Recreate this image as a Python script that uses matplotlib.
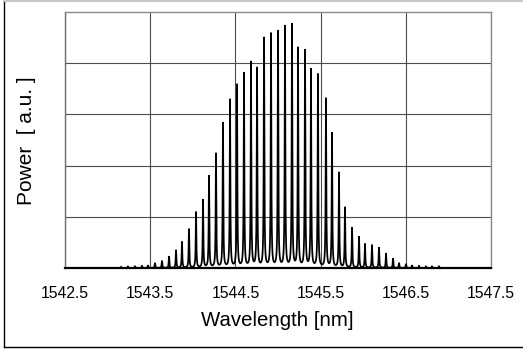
import numpy as np
import matplotlib
matplotlib.use("Agg")
import matplotlib.pyplot as plt
from matplotlib.lines import Line2D

# Comb line positions (nm) and peak powers (a.u., grid units)
peak_nm = [1543.157, 1543.239, 1543.322, 1543.404, 1543.474, 1543.556,
           1543.638, 1543.721, 1543.803, 1543.873, 1543.955, 1544.038,
           1544.120, 1544.190, 1544.272, 1544.354, 1544.437, 1544.519,
           1544.601, 1544.683, 1544.754, 1544.836, 1544.918, 1545.000,
           1545.082, 1545.164, 1545.235, 1545.317, 1545.387, 1545.469,
           1545.563, 1545.634, 1545.716, 1545.786, 1545.869, 1545.951,
           1546.021, 1546.103, 1546.185, 1546.268, 1546.350, 1546.420,
           1546.502, 1546.573, 1546.655, 1546.737, 1546.808, 1546.890]
peak_power = [0.02, 0.03, 0.03, 0.04, 0.05, 0.10,
              0.14, 0.23, 0.35, 0.51, 0.76, 1.09,
              1.33, 1.80, 2.23, 2.83, 3.28, 3.57,
              3.79, 4.01, 3.89, 4.48, 4.56, 4.61,
              4.71, 4.74, 4.28, 4.24, 3.87, 3.77,
              3.30, 2.63, 1.86, 1.18, 0.79, 0.61,
              0.47, 0.45, 0.40, 0.29, 0.19, 0.10,
              0.08, 0.05, 0.04, 0.03, 0.03, 0.03]

xtick_vals = [1542.5, 1543.5, 1544.5, 1545.5, 1546.5, 1547.5]
xtick_labels = ["1542.5", "1543.5", "1544.5", "1545.5", "1546.5", "1547.5"]

W, H, DPI = 523, 351, 100
fig = plt.figure(figsize=(W / DPI, H / DPI), dpi=DPI)
fig.patch.set_facecolor("white")

# outer frame
fig.add_artist(Line2D([3.5 / W, 3.5 / W], [4 / H, 1 - 0.5 / H], color="black",
                      lw=1.0, transform=fig.transFigure))
fig.add_artist(Line2D([3.5 / W, 1], [4 / H, 4 / H], color="black",
                      lw=1.0, transform=fig.transFigure))
fig.add_artist(Line2D([3.5 / W, 1], [1 - 0.5 / H, 1 - 0.5 / H], color="#c8c8c8",
                      lw=1.5, transform=fig.transFigure))

left, right, bottom, top = 65 / W, 491 / W, 1 - 268 / H, 1 - 12 / H
ax = fig.add_axes([left, bottom, right - left, top - bottom])

# spectrum trace: each comb line rendered with a narrow Lorentzian profile
wl = np.arange(1542.5, 1547.5 + 1e-9, 0.0005)
gamma = 0.0042
trace = np.zeros_like(wl)
for c, p in zip(peak_nm, peak_power):
    trace += p / (1.0 + ((wl - c) / gamma) ** 2)

ax.plot(wl, trace, color="black", lw=1.25, solid_joinstyle="miter", zorder=3)

ax.set_xlim(1542.5, 1547.5)
ax.set_ylim(0, 5)
ax.set_xticks(xtick_vals)
ax.set_xticklabels(xtick_labels)
ax.set_yticks([1, 2, 3, 4])
ax.set_yticklabels([])
ax.tick_params(axis="both", length=0)
ax.tick_params(axis="x", pad=13)
for lab in ax.get_xticklabels():
    lab.set_fontfamily("Liberation Sans")
    lab.set_fontsize(11.3)

ax.grid(True, color="#4d4d4d", lw=0.8)
ax.set_axisbelow(True)

for s in ("top", "right"):
    ax.spines[s].set_color("#8a8a8a")
    ax.spines[s].set_linewidth(1.0)
ax.spines["left"].set_color("#707070")
ax.spines["left"].set_linewidth(1.0)
ax.spines["bottom"].set_color("black")
ax.spines["bottom"].set_linewidth(1.6)

fig.text(277 / W, 1 - 320 / H, "Wavelength [nm]", family="Liberation Sans",
         fontsize=14.7, ha="center", va="center")
fig.text(26 / W, 1 - 141 / H, "Power  [ a.u. ]", family="Liberation Sans",
         fontsize=15, ha="center", va="center", rotation=90)

fig.savefig("out.png", dpi=DPI, facecolor="white")
